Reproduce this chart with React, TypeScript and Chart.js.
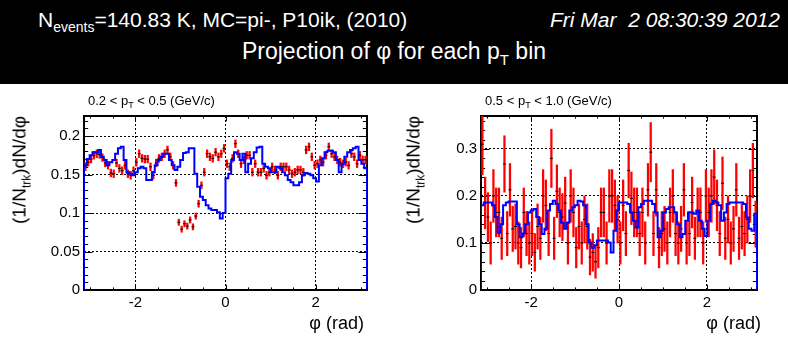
import React, { useEffect, useRef } from "react";
import { Chart, registerables } from "chart.js";
Chart.register(...registerables);

const FONT = '"Liberation Sans", Arial, Helvetica, sans-serif';
const PHI_MIN = -Math.PI;
const PHI_MAX = Math.PI;

const xTickValues = [-2, 0, 2];
const xTickLabels = ["-2", "0", "2"];
const leftYTickValues = [0, 0.05, 0.1, 0.15, 0.2];
const leftYTickLabels = ["0", "0.05", "0.1", "0.15", "0.2"];
const rightYTickValues = [0, 0.1, 0.2, 0.3];
const rightYTickLabels = ["0", "0.1", "0.2", "0.3"];

// 0.2 < pT < 0.5 : data (red points) per phi bin
const leftData = [
  0.160, 0.166, 0.170, 0.175, 0.177, 0.176, 0.172, 0.165, 0.162, 0.152,
  0.151, 0.165, 0.158, 0.155, 0.162, 0.151, 0.149, 0.155, 0.166, 0.177,
  0.171, 0.170, 0.170, 0.160, 0.149, 0.165, 0.171, 0.173, 0.177, 0.182,
  0.173, 0.162, 0.139, 0.088, 0.079, 0.086, 0.083, 0.091, 0.082, 0.096,
  0.112, 0.136, 0.153, 0.177, 0.173, 0.171, 0.179, 0.173, 0.177, 0.184,
  0.164, 0.160, 0.171, 0.190, 0.177, 0.164, 0.169, 0.175, 0.175, 0.153,
  0.164, 0.153, 0.153, 0.158, 0.149, 0.153, 0.160, 0.156, 0.149, 0.160,
  0.160, 0.160, 0.156, 0.151, 0.153, 0.156, 0.156, 0.153, 0.182, 0.186,
  0.173, 0.162, 0.164, 0.169, 0.166, 0.175, 0.186, 0.177, 0.173, 0.169,
  0.166, 0.164, 0.166, 0.162, 0.177, 0.173, 0.164, 0.175, 0.169, 0.169,
];
const leftErr = [
  0.005, 0.005, 0.005, 0.005, 0.005, 0.005, 0.005, 0.005, 0.005, 0.005,
  0.005, 0.005, 0.005, 0.005, 0.005, 0.005, 0.005, 0.005, 0.005, 0.005,
  0.005, 0.005, 0.005, 0.005, 0.005, 0.005, 0.005, 0.005, 0.005, 0.005,
  0.005, 0.005, 0.0045, 0.004, 0.004, 0.004, 0.004, 0.004, 0.004, 0.004,
  0.0045, 0.0045, 0.005, 0.005, 0.005, 0.005, 0.005, 0.005, 0.005, 0.005,
  0.005, 0.005, 0.005, 0.005, 0.005, 0.005, 0.005, 0.005, 0.005, 0.005,
  0.005, 0.005, 0.005, 0.005, 0.005, 0.005, 0.005, 0.005, 0.005, 0.005,
  0.005, 0.005, 0.005, 0.005, 0.005, 0.005, 0.005, 0.005, 0.005, 0.005,
  0.005, 0.005, 0.005, 0.005, 0.005, 0.005, 0.005, 0.005, 0.005, 0.005,
  0.005, 0.005, 0.005, 0.005, 0.005, 0.005, 0.005, 0.005, 0.005, 0.005,
];
// 0.2 < pT < 0.5 : MC (blue histogram)
const leftMC = [
  0.162, 0.170, 0.175, 0.179, 0.179, 0.182, 0.173, 0.169, 0.162, 0.166,
  0.169, 0.177, 0.184, 0.186, 0.169, 0.153, 0.151, 0.149, 0.153, 0.158,
  0.160, 0.158, 0.143, 0.143, 0.153, 0.162, 0.169, 0.173, 0.177, 0.177,
  0.169, 0.162, 0.156, 0.160, 0.169, 0.178, 0.179, 0.184, 0.184, 0.151,
  0.134, 0.121, 0.117, 0.110, 0.106, 0.104, 0.104, 0.101, 0.093, 0.100,
  0.145, 0.151, 0.169, 0.179, 0.177, 0.169, 0.177, 0.153, 0.164, 0.171,
  0.179, 0.185, 0.186, 0.164, 0.160, 0.158, 0.153, 0.153, 0.160, 0.158,
  0.153, 0.149, 0.143, 0.140, 0.136, 0.136, 0.140, 0.149, 0.152, 0.151,
  0.149, 0.145, 0.141, 0.162, 0.171, 0.179, 0.181, 0.181, 0.179, 0.169,
  0.153, 0.164, 0.173, 0.179, 0.182, 0.184, 0.186, 0.169, 0.164, 0.158,
];

// 0.5 < pT < 1.0 : data (red points)
const rightData = [
  0.310, 0.185, 0.155, 0.100, 0.200, 0.165, 0.165, 0.110, 0.268, 0.120,
  0.213, 0.130, 0.135, 0.100, 0.090, 0.165, 0.120, 0.100, 0.120, 0.080,
  0.135, 0.110, 0.200, 0.180, 0.120, 0.280, 0.110, 0.210, 0.165, 0.155,
  0.185, 0.100, 0.200, 0.165, 0.090, 0.135, 0.100, 0.150, 0.135, 0.070,
  0.080, 0.060, 0.090, 0.165, 0.165, 0.100, 0.200, 0.200, 0.180, 0.150,
  0.100, 0.180, 0.120, 0.254, 0.195, 0.165, 0.165, 0.120, 0.165, 0.100,
  0.213, 0.293, 0.120, 0.213, 0.090, 0.120, 0.130, 0.100, 0.165, 0.200,
  0.120, 0.100, 0.130, 0.213, 0.100, 0.120, 0.186, 0.110, 0.165, 0.165,
  0.100, 0.200, 0.165, 0.200, 0.240, 0.180, 0.120, 0.227, 0.110, 0.150,
  0.100, 0.130, 0.213, 0.110, 0.135, 0.120, 0.150, 0.200, 0.254, 0.140,
];
const rightErr = [
  0.065, 0.055, 0.052, 0.045, 0.056, 0.052, 0.052, 0.045, 0.060, 0.047,
  0.056, 0.048, 0.048, 0.045, 0.043, 0.052, 0.047, 0.045, 0.047, 0.040,
  0.048, 0.045, 0.056, 0.054, 0.047, 0.062, 0.045, 0.056, 0.052, 0.050,
  0.055, 0.045, 0.056, 0.052, 0.043, 0.048, 0.045, 0.050, 0.048, 0.038,
  0.040, 0.035, 0.043, 0.052, 0.052, 0.045, 0.056, 0.056, 0.054, 0.050,
  0.045, 0.054, 0.047, 0.058, 0.056, 0.052, 0.052, 0.047, 0.052, 0.045,
  0.056, 0.063, 0.047, 0.056, 0.043, 0.047, 0.048, 0.045, 0.052, 0.056,
  0.047, 0.045, 0.048, 0.056, 0.045, 0.047, 0.054, 0.045, 0.052, 0.052,
  0.045, 0.056, 0.052, 0.056, 0.058, 0.054, 0.047, 0.056, 0.045, 0.050,
  0.045, 0.048, 0.056, 0.045, 0.048, 0.047, 0.050, 0.056, 0.058, 0.049,
];
// 0.5 < pT < 1.0 : MC (blue histogram)
const rightMC = [
  0.180, 0.186, 0.186, 0.186, 0.180, 0.155, 0.122, 0.140, 0.180, 0.186,
  0.188, 0.188, 0.188, 0.140, 0.112, 0.120, 0.140, 0.165, 0.169, 0.172,
  0.155, 0.140, 0.119, 0.130, 0.169, 0.183, 0.190, 0.183, 0.169, 0.143,
  0.130, 0.143, 0.169, 0.176, 0.180, 0.190, 0.188, 0.180, 0.140, 0.101,
  0.090, 0.095, 0.105, 0.105, 0.105, 0.105, 0.101, 0.080, 0.126, 0.169,
  0.186, 0.186, 0.186, 0.183, 0.165, 0.147, 0.133, 0.176, 0.183, 0.190,
  0.190, 0.190, 0.183, 0.165, 0.112, 0.126, 0.165, 0.172, 0.176, 0.176,
  0.165, 0.140, 0.112, 0.119, 0.147, 0.165, 0.165, 0.162, 0.169, 0.147,
  0.130, 0.115, 0.147, 0.183, 0.190, 0.186, 0.180, 0.147, 0.165, 0.183,
  0.186, 0.186, 0.186, 0.186, 0.186, 0.183, 0.154, 0.130, 0.126, 0.162,
];

type PanelProps = {
  data: number[];
  err: number[];
  mc: number[];
  yMax: number;
  yTicks: number[];
  yLabels: string[];
  yMinor: number;
  left: number;
  yAxisWidth: number;
  padRight: number;
};

const CANVAS_W = 394;
const CANVAS_H = 265;
const CANVAS_TOP = 84;
const FRAME_TOP = 116;
const FRAME_BOTTOM = 290;

function Panel(p: PanelProps) {
  const ref = useRef<HTMLCanvasElement>(null);
  useEffect(() => {
    if (!ref.current) return;
    const n = p.data.length;
    const w = (PHI_MAX - PHI_MIN) / n;
    const errBars = p.data.map((v, i) => ({
      x: PHI_MIN + (i + 0.5) * w,
      y: [v - p.err[i], v + p.err[i]],
    }));
    const markers = p.data.map((v, i) => ({ x: PHI_MIN + (i + 0.5) * w, y: v }));
    const steps = [
      { x: PHI_MIN, y: 0 },
      ...p.mc.map((v, i) => ({ x: PHI_MIN + i * w, y: v })),
      { x: PHI_MAX, y: 0 },
    ];

    const framePlugin = {
      id: "rootFrame",
      beforeDatasetsDraw(chart: any) {
        const { ctx, chartArea: a, scales } = chart;
        const xs = scales.x;
        const ys = scales.y;
        ctx.save();
        ctx.strokeStyle = "#000";
        ctx.lineWidth = 1;
        ctx.beginPath();
        for (let k = -6; k <= 6; k++) {
          const v = k * 0.5;
          const px = Math.round(xs.getPixelForValue(v)) + 0.5;
          const len = k % 4 === 0 ? 5.2 : 2.6;
          ctx.moveTo(px, a.bottom);
          ctx.lineTo(px, a.bottom - len);
          ctx.moveTo(px, a.top);
          ctx.lineTo(px, a.top + len);
        }
        for (let k = 0; k * p.yMinor <= p.yMax + 1e-9; k++) {
          const v = k * p.yMinor;
          const py = Math.round(ys.getPixelForValue(v)) + 0.5;
          const len = k % 5 === 0 ? 8.5 : 4.2;
          ctx.moveTo(a.left, py);
          ctx.lineTo(a.left + len, py);
          ctx.moveTo(a.right, py);
          ctx.lineTo(a.right - len, py);
        }
        ctx.stroke();
        ctx.lineWidth = 2;
        ctx.strokeRect(a.left, a.top, a.right - a.left, a.bottom - a.top);
        ctx.restore();
      },
    };

    const tickFont = { family: FONT, size: 15 };
    const chart = new Chart(ref.current, {
      type: "bar",
      data: {
        datasets: [
          {
            type: "line",
            data: steps as any,
            stepped: "before",
            borderColor: "#0000ff",
            borderWidth: 2,
            pointRadius: 0,
            fill: false,
            order: 0,
          } as any,
          {
            type: "scatter",
            data: markers as any,
            pointStyle: "line",
            pointRadius: 1.5,
            borderColor: "#000",
            borderWidth: 1,
            order: 1,
          } as any,
          {
            type: "bar",
            data: errBars as any,
            backgroundColor: "#ff0000",
            borderWidth: 0,
            barThickness: 1.6,
            grouped: false,
            order: 2,
          } as any,
        ],
      },
      options: {
        animation: false,
        responsive: false,
        devicePixelRatio: 1,
        events: [],
        layout: { padding: { left: 0, right: p.padRight, top: FRAME_TOP - CANVAS_TOP, bottom: 0 } },
        plugins: { legend: { display: false }, tooltip: { enabled: false }, title: { display: false } },
        scales: {
          x: {
            type: "linear",
            min: PHI_MIN,
            max: PHI_MAX,
            offset: false,
            afterBuildTicks: (s: any) => {
              s.ticks = xTickValues.map((v) => ({ value: v }));
            },
            afterFit: (s: any) => {
              s.height = CANVAS_H - (FRAME_BOTTOM - CANVAS_TOP);
            },
            ticks: {
              autoSkip: false,
              maxRotation: 0,
              padding: 4,
              color: "#000",
              font: tickFont,
              callback: (v: any) => xTickLabels[xTickValues.indexOf(Number(v))] ?? "",
            },
            grid: { color: "#000", lineWidth: 1, drawTicks: false, offset: false },
            border: { display: false, dash: [2, 2] },
          },
          y: {
            type: "linear",
            min: 0,
            max: p.yMax,
            afterBuildTicks: (s: any) => {
              s.ticks = p.yTicks.map((v) => ({ value: v }));
            },
            afterFit: (s: any) => {
              s.width = p.yAxisWidth;
            },
            ticks: {
              autoSkip: false,
              padding: 4,
              color: "#000",
              font: tickFont,
              callback: (v: any) => {
                const idx = p.yTicks.findIndex((t) => Math.abs(t - Number(v)) < 1e-9);
                return idx >= 0 ? p.yLabels[idx] : "";
              },
            },
            grid: { color: "#000", lineWidth: 1, drawTicks: false },
            border: { display: false, dash: [2, 2] },
          },
        },
      },
      plugins: [framePlugin],
    } as any);
    return () => chart.destroy();
  }, []);
  return (
    <canvas
      ref={ref}
      width={CANVAS_W}
      height={CANVAS_H}
      style={{ position: "absolute", left: p.left, top: CANVAS_TOP, width: CANVAS_W, height: CANVAS_H }}
    />
  );
}

const txt: React.CSSProperties = {
  position: "absolute",
  fontFamily: FONT,
  lineHeight: 1,
  whiteSpace: "pre",
  color: "#000",
};

function YTitle({ cx }: { cx: number }) {
  return (
    <div
      style={{
        ...txt,
        left: cx,
        top: 170,
        fontSize: 19,
        transform: "translate(-50%, -50%) rotate(-90deg)",
      }}
    >
      (1/N<span style={{ fontSize: 12, position: "relative", top: 5 }}>trk</span>)dN/dφ
    </div>
  );
}

export default function App() {
  useEffect(() => {
    document.body.style.margin = "0";
  }, []);
  return (
    <div style={{ position: "fixed", left: 0, top: 0, width: 788, height: 349, background: "#fff", overflow: "hidden" }}>
      <div style={{ position: "absolute", left: 0, top: 0, width: 788, height: 84, background: "#000" }} />
      <div style={{ ...txt, color: "#fff", left: 38, top: 9, fontSize: 21 }}>
        N<span style={{ fontSize: 14, position: "relative", top: 5 }}>events</span>=140.83 K, MC=pi-, P10ik, (2010)
      </div>
      <div style={{ ...txt, color: "#fff", right: 8, top: 9, fontSize: 21, fontStyle: "italic" }}>
        {"Fri Mar  2 08:30:39 2012"}
      </div>
      <div style={{ ...txt, color: "#fff", left: 0, width: 788, textAlign: "center", top: 40, fontSize: 23 }}>
        Projection of φ for each p<span style={{ fontSize: 15, position: "relative", top: 6 }}>T</span> bin
      </div>

      <Panel
        data={leftData}
        err={leftErr}
        mc={leftMC}
        yMax={0.226}
        yTicks={leftYTickValues}
        yLabels={leftYTickLabels}
        yMinor={0.01}
        left={0}
        yAxisWidth={84}
        padRight={27}
      />
      <Panel
        data={rightData}
        err={rightErr}
        mc={rightMC}
        yMax={0.37}
        yTicks={rightYTickValues}
        yLabels={rightYTickLabels}
        yMinor={0.02}
        left={394}
        yAxisWidth={87}
        padRight={31}
      />

      <div style={{ ...txt, left: 88, top: 94, fontSize: 13 }}>
        0.2 &lt; p<span style={{ fontSize: 9, position: "relative", top: 3 }}>T</span> &lt; 0.5 (GeV/c)
      </div>
      <div style={{ ...txt, left: 485, top: 94, fontSize: 13 }}>
        0.5 &lt; p<span style={{ fontSize: 9, position: "relative", top: 3 }}>T</span> &lt; 1.0 (GeV/c)
      </div>

      <YTitle cx={19} />
      <YTitle cx={413} />

      <div style={{ ...txt, right: 788 - 364, top: 314, fontSize: 18 }}>φ (rad)</div>
      <div style={{ ...txt, right: 788 - 761, top: 314, fontSize: 18 }}>φ (rad)</div>
    </div>
  );
}
